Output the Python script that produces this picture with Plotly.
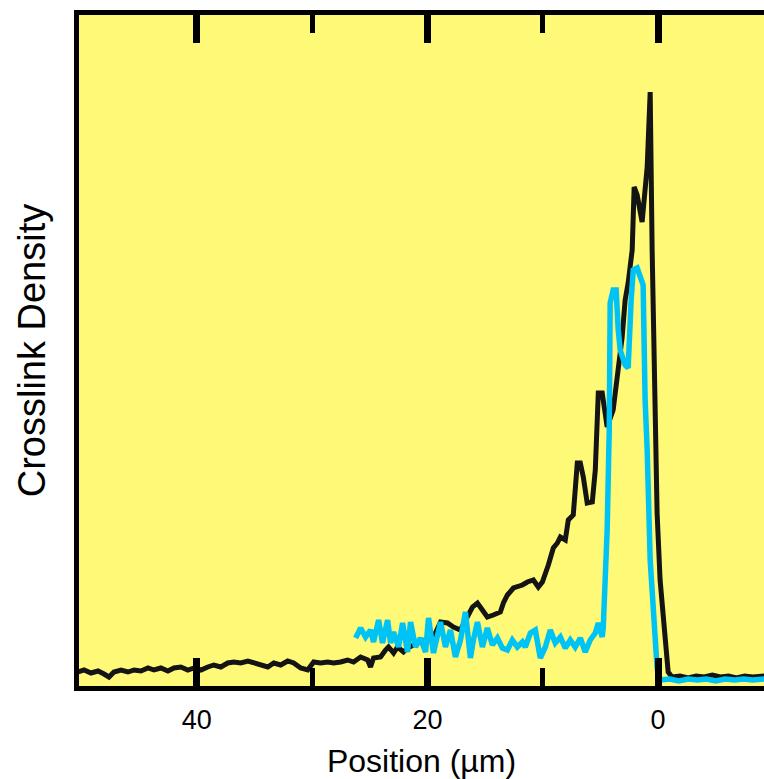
import plotly.graph_objects as go

# --- crosslink density profiles (arbitrary units), position in µm ---
black_x = [50.30, 49.78, 49.18, 48.57, 48.05, 47.62, 47.19, 46.58, 45.97, 45.45,
           44.85, 44.24, 43.72, 43.12, 42.51, 41.99, 41.39, 40.78, 40.26, 39.65,
           39.05, 38.53, 37.92, 37.32, 36.80, 36.19, 35.58, 35.06, 34.46, 33.85,
           33.33, 32.73, 32.12, 31.60, 31.00, 30.39, 29.87, 29.26, 28.66, 28.14,
           27.53, 26.93, 26.41, 25.80, 25.19, 24.94, 24.68, 24.07, 23.64, 23.38,
           22.94, 22.60, 22.08, 21.73, 21.04, 20.17, 19.31, 18.87, 18.27, 17.75,
           17.14, 16.71, 16.10, 15.67, 15.24, 14.81, 14.29, 13.68, 13.42, 13.07,
           12.55, 11.77, 11.34, 10.82, 10.39, 10.04, 9.52, 9.09, 8.74, 8.48,
           8.05, 7.79, 7.36, 7.01, 6.75, 6.49, 6.15, 5.71, 5.45, 5.19,
           4.85, 4.42, 3.90, 3.46, 3.12, 2.86, 2.60, 2.25, 2.08, 1.82,
           1.39, 0.95, 0.69, 0.52, 0.26, 0.09, -0.17, -0.61, -0.87, -1.21,
           -1.9, -2.6, -3.3, -4.0, -4.7, -5.4, -6.1, -6.8, -7.5, -8.2, -9.2]
black_y = [1.6, 1.8, 1.5, 1.7, 1.4, 1.1, 1.6, 1.8, 1.6, 1.8,
           1.7, 2.0, 1.8, 2.0, 1.7, 2.0, 2.1, 1.8, 2.0, 1.8,
           2.1, 2.3, 2.1, 2.5, 2.6, 2.5, 2.7, 2.5, 2.3, 2.1,
           2.5, 2.3, 2.7, 2.5, 2.0, 1.8, 2.6, 2.5, 2.6, 2.5,
           2.6, 2.8, 2.6, 3.1, 2.8, 2.1, 3.0, 3.1, 3.8, 4.1,
           3.5, 4.1, 3.6, 4.0, 4.4, 4.8, 5.5, 6.6, 6.5, 6.1,
           5.8, 6.8, 8.1, 8.5, 7.8, 7.1, 7.3, 7.6, 8.5, 9.3,
           10.0, 10.3, 10.6, 10.8, 10.1, 10.6, 12.3, 14.0, 14.5, 15.1,
           14.8, 16.8, 17.3, 22.5, 22.5, 21.1, 18.5, 18.6, 21.8, 29.5,
           29.5, 26.1, 27.8, 31.5, 35.1, 38.8, 40.5, 43.8, 50.1, 49.3,
           46.6, 52.1, 59.6, 43.8, 25.8, 17.5, 10.8, 4.1, 1.6, 1.1,
           1.2, 1.0, 1.2, 1.1, 1.3, 1.1, 1.2, 1.0, 1.2, 1.1, 1.2]

cyan_x = [26.23, 25.80, 25.37, 24.94, 24.68, 24.24, 23.90, 23.46, 23.20, 22.94,
          22.51, 22.16, 21.73, 21.47, 21.04, 20.61, 20.17, 19.91, 19.48, 19.13,
          18.87, 18.44, 18.01, 17.58, 17.14, 16.71, 16.28, 16.02, 15.67, 15.24,
          14.81, 14.37, 13.94, 13.51, 13.07, 12.64, 12.21, 11.77, 11.52, 11.08,
          10.65, 10.22, 9.78, 9.35, 8.92, 8.48, 8.05, 7.62, 7.19, 6.75,
          6.32, 5.89, 5.45, 5.19, 4.85, 4.76, 4.59, 4.42, 4.24, 4.16,
          3.90, 3.64, 3.46, 3.29, 2.86, 2.60, 2.34, 2.16, 1.82, 1.47,
          1.30, 1.13, 0.95, 0.69, 0.43, 0.26, 0.09, -0.17,
          -1.0, -1.8, -2.6, -3.4, -4.2, -5.0, -5.8, -6.6, -7.4, -8.2, -9.2]
cyan_y = [5.0, 6.0, 5.1, 5.8, 4.6, 6.8, 4.5, 6.8, 4.5, 5.6,
          4.1, 6.5, 3.6, 6.6, 4.1, 5.0, 3.6, 7.0, 3.5, 5.6,
          6.6, 4.1, 5.8, 3.1, 4.8, 7.6, 3.0, 4.8, 6.6, 4.1,
          6.0, 4.3, 5.0, 4.0, 3.8, 4.8, 4.1, 4.6, 4.1, 5.5,
          5.8, 3.0, 4.1, 5.8, 4.5, 5.1, 4.0, 4.8, 4.1, 5.0,
          3.6, 4.8, 5.5, 6.5, 5.1, 6.0, 9.8, 15.8, 25.8, 38.5,
          39.8, 39.8, 35.8, 33.8, 32.3, 32.0, 38.8, 41.8, 42.0, 40.8,
          40.3, 28.8, 23.8, 12.8, 7.5, 4.1, 2.0, 0.8,
          0.9, 0.7, 0.9, 0.8, 0.9, 0.7, 0.9, 0.8, 0.9, 0.8, 0.9]

major_ticks = [40, 20, 0]
minor_ticks = [30, 10]

fig = go.Figure()
fig.add_trace(go.Scatter(x=black_x, y=black_y, mode="lines",
                         line=dict(color="#141414", width=5), showlegend=False))
fig.add_trace(go.Scatter(x=cyan_x, y=cyan_y, mode="lines",
                         line=dict(color="#00c3f5", width=5.5), showlegend=False))

fig.update_xaxes(
    range=[50.22, -9.18],
    tickvals=major_ticks,
    ticktext=[str(v) for v in major_ticks],
    ticks="inside", ticklen=28, tickwidth=7, tickcolor="black",
    minor=dict(tickvals=minor_ticks, ticks="inside", ticklen=18, tickwidth=5,
               tickcolor="black", showgrid=False),
    showline=True, linewidth=5, linecolor="black", mirror="ticks",
    showgrid=False, zeroline=False, automargin=False,
    tickfont=dict(size=27, color="black"),
    ticklabelstandoff=6,
    title=dict(text="Position (µm)", font=dict(size=32, color="black"), standoff=28),
)
fig.update_yaxes(
    range=[0.2, 67.3],
    showticklabels=False, ticks="",
    showline=True, linewidth=5, linecolor="black", mirror=False,
    showgrid=False, zeroline=False, automargin=False,
    title=dict(text="Crosslink Density", font=dict(size=38, color="black"), standoff=18),
)

fig.update_layout(
    width=764, height=779,
    margin=dict(l=79, r=0, t=15, b=93),
    plot_bgcolor="#fff978",
    paper_bgcolor="white",
    font=dict(family="Liberation Sans, Arial, sans-serif", color="black"),
)

# drop the default page margin so the figure sits at the window's corner
fig.write_html(
    "out.html",
    config={"displayModeBar": False},
    post_script="document.body.style.margin='0';"
                "document.documentElement.style.overflow='hidden';",
)
